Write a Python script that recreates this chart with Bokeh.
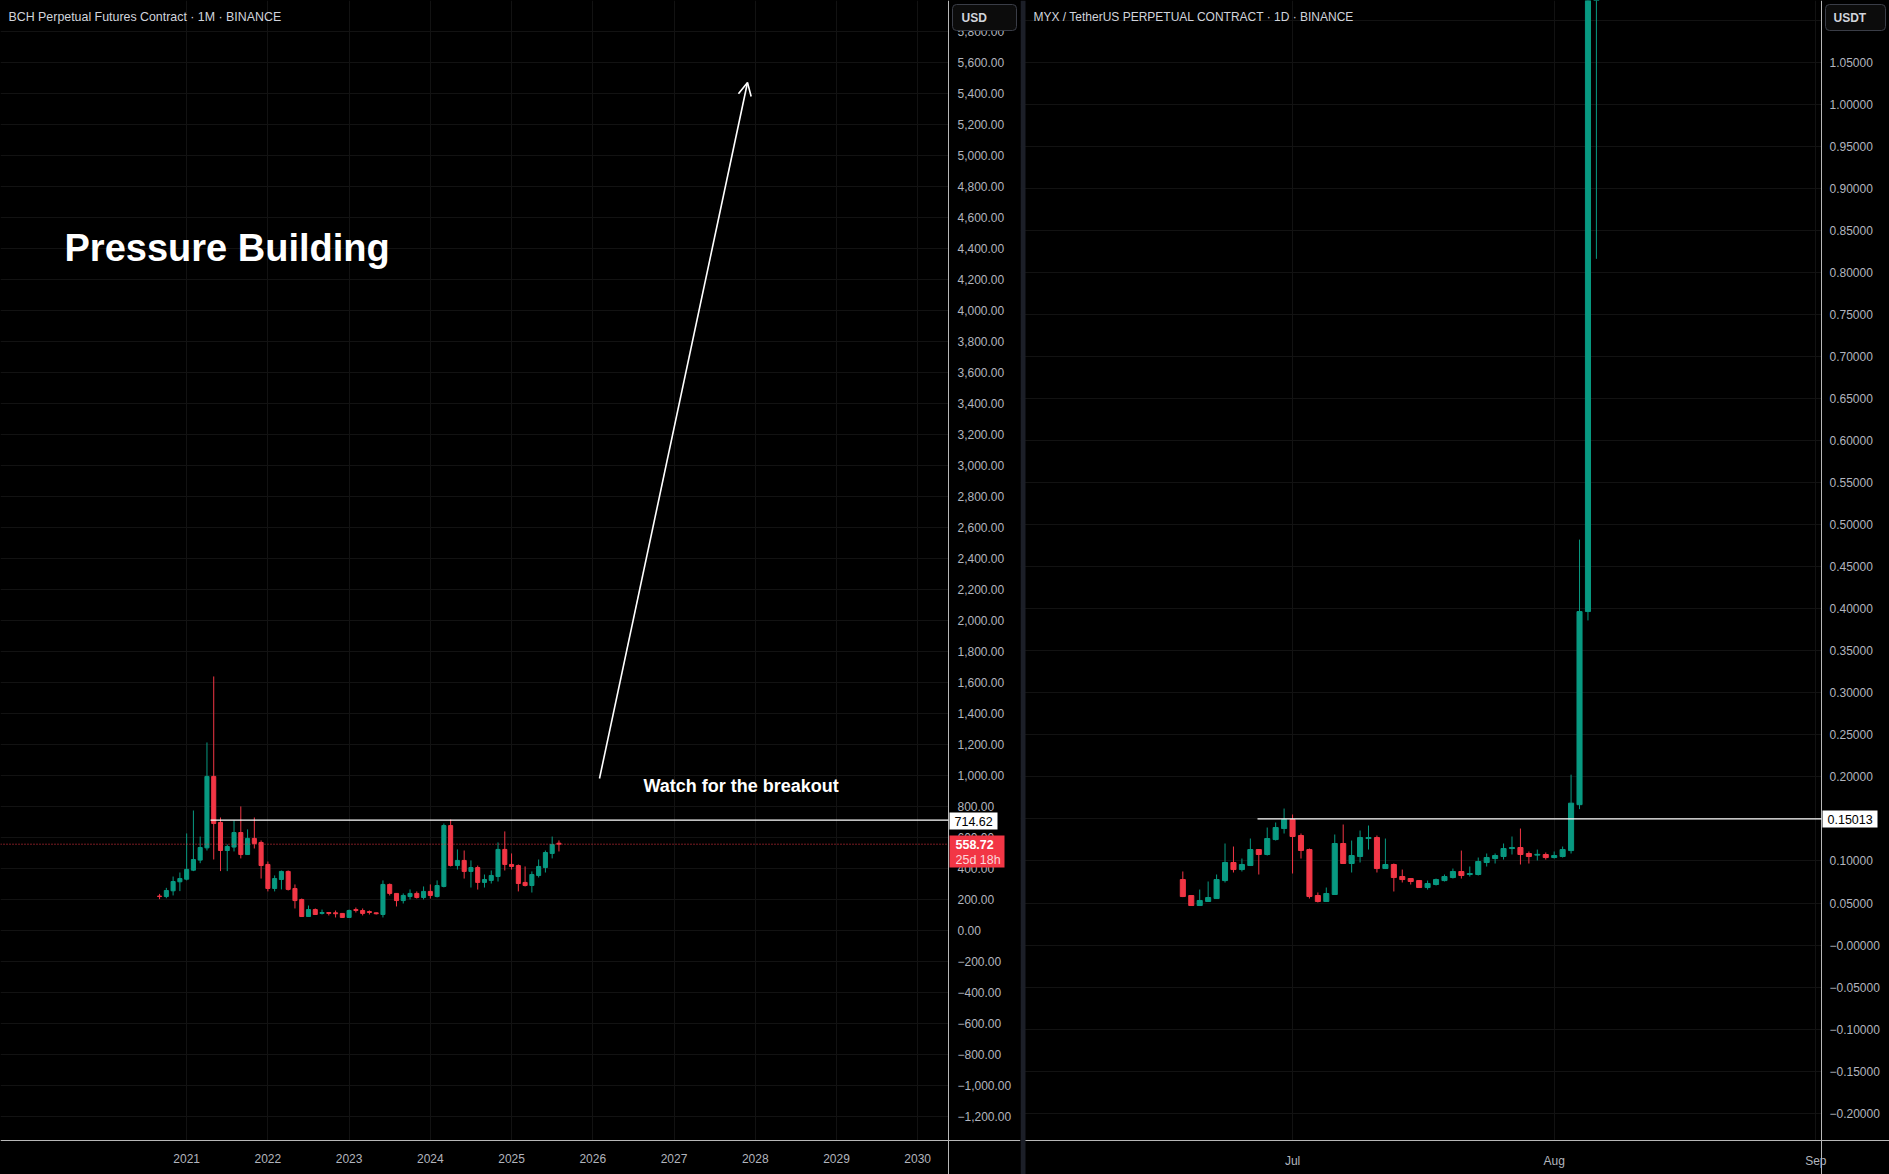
import pandas as pd
from bokeh.plotting import figure
from bokeh.models import (Range1d, FixedTicker, CustomJSTickFormatter, Label, BoxAnnotation,
                          Arrow, OpenHead, ColumnDataSource)
from bokeh.layouts import row
from bokeh.embed import file_html
from bokeh.resources import INLINE

# ---------------- data: BCH monthly (Sep 2020 .. Aug 2025) ----------------
bch_months = [str(p) for p in pd.period_range("2020-09", periods=60, freq="M")]
bch_open = [224, 221, 258, 316, 333, 391, 456, 535, 996, 699,
            518, 540, 634, 492, 596, 570, 428, 273, 331, 383,
            273, 202, 92, 137, 112, 118, 116, 112, 86, 137,
            131, 124, 116, 105, 299, 241, 195, 221, 241, 215,
            254, 221, 286, 679, 421, 454, 383, 408, 312, 325,
            350, 525, 428, 421, 312, 292, 357, 408, 499, 565]
bch_high = [238, 277, 350, 376, 628, 776, 608, 1215, 1641, 731,
            557, 712, 802, 654, 731, 583, 447, 357, 389, 389,
            299, 208, 163, 144, 137, 118, 131, 112, 137, 150,
            144, 131, 118, 325, 305, 241, 241, 267, 254, 286,
            299, 325, 692, 718, 525, 518, 454, 421, 363, 389,
            570, 641, 499, 428, 415, 383, 460, 518, 608, 583]
bch_low = [204, 210, 228, 256, 325, 385, 436, 518, 460, 385,
           385, 512, 467, 490, 531, 337, 254, 254, 267, 260,
           144, 90, 90, 103, 105, 99, 86, 85, 85, 118,
           99, 105, 105, 86, 228, 157, 176, 202, 208, 202,
           208, 215, 280, 415, 395, 337, 279, 266, 279, 305,
           318, 389, 395, 254, 286, 247, 344, 376, 467, 512]
bch_close = [221, 260, 318, 337, 396, 460, 537, 996, 692, 518,
             544, 634, 492, 596, 563, 421, 273, 337, 383, 267,
             195, 92, 137, 105, 118, 112, 110, 86, 131, 131,
             112, 118, 110, 299, 241, 195, 228, 241, 215, 254,
             228, 292, 679, 421, 454, 383, 408, 312, 331, 357,
             525, 428, 415, 305, 292, 363, 415, 505, 557, 558.72]
bch_years = ["2021", "2022", "2023", "2024", "2025", "2026", "2027", "2028", "2029", "2030"]
bch_yticks = list(range(-1200, 5801, 200))
bch_level = 714.62
bch_last = 558.72

# ---------------- data: MYX daily (Jun 18 .. Aug 6 2025) ----------------
myx_days = [d.strftime("%Y-%m-%d") for d in pd.date_range("2025-06-18", periods=50, freq="D")]
myx_open = [.0779, .0589, .0470, .0518, .0553, .0767, .0982, .0898, .0946, .1136,
            .1077, .1255, .1386, .1493, .1303, .1136, .0589, .0518, .0601, .1208,
            .0970, .1053, .1267, .1279, .0910, .0958, .0815, .0791, .0767, .0684,
            .0720, .0767, .0803, .0875, .0839, .0839, .0982, .1029, .1053, .1148,
            .1160, .1089, .1070, .1077, .1041, .1053, .1124, .1670, .3968, 1.3000]
myx_high = [.0875, .0595, .0660, .0756, .0839, .1208, .1172, .1029, .1267, .1140,
            .1398, .1458, .1624, .1553, .1327, .1148, .0625, .0684, .1315, .1434,
            .1243, .1362, .1422, .1303, .1267, .0970, .0898, .0791, .0770, .0767,
            .0791, .0839, .0910, .1124, .0934, .1041, .1089, .1089, .1208, .1291,
            .1386, .1113, .1136, .1101, .1113, .1172, .2027, .4824, 1.3800, 1.5500]
myx_low = [.0570, .0465, .0465, .0512, .0550, .0744, .0863, .0875, .0940, .0839,
           .1065, .1243, .1327, .0851, .1029, .0553, .0506, .0512, .0598, .0965,
           .0863, .0982, .1136, .0863, .0905, .0637, .0744, .0720, .0684, .0660,
           .0708, .0756, .0791, .0791, .0815, .0827, .0934, .0970, .1017, .1077,
           .0958, .0970, .1006, .1017, .1029, .1041, .1089, .1617, .3862, .8165]
myx_close = [.0577, .0470, .0530, .0565, .0779, .0982, .0898, .0958, .1136, .1077,
             .1267, .1398, .1493, .1291, .1125, .0577, .0518, .0613, .1208, .0970,
             .1065, .1279, .1279, .0910, .0958, .0803, .0779, .0756, .0684, .0732,
             .0779, .0815, .0875, .0827, .0851, .0994, .1041, .1065, .1148, .1160,
             .1077, .1053, .1079, .1041, .1065, .1136, .1688, .3968, 1.3000, 1.3600]
myx_months = ["Jul", "Aug", "Sep"]
myx_month_starts = ["2025-07-01", "2025-08-01", "2025-09-01"]
myx_yticks = [round(-0.20 + 0.05 * i, 2) for i in range(27)]
myx_level = 0.15013

# ---------------- styling ----------------
GREEN = "#089981"
RED = "#f23645"
BG = "#000000"
TXT = "#d1d4dc"
TICK = "#b2b5be"
AXIS = "#b8b8b8"
GRID = "#121212"
FONT = "Liberation Sans"

H = 1174
FRAME_B = 1140          # y (window px) of the time axis line

# left pane: canvas = window x 0..1020 ; price axis line at x = 948
L_W, L_AX = 1020, 948
L_XS, L_DX = -27.5, 140.05 / 948.0       # month index at px 0, months per px
L_YT, L_DY = 6002.0, 7355.0 / 1140.0     # price at py 0, price per px
# right pane: canvas = window x 1020..1889 ; plot from 1025, price axis at 1821
R_X0, R_W, R_AX = 1020, 869, 1821
R_XS, R_DX = -31.64, 94.31 / 796.0       # day index at px 1025
R_YT, R_DY = 1.1239, 1.3565 / 1140.0


def lx(px):
    return L_XS + px * L_DX


def ly(py):
    return L_YT - py * L_DY


def rx(px):
    return R_XS + (px - 1025) * R_DX


def ry(py):
    return R_YT - py * R_DY


def candles(p, x, o, h, l, c, width):
    color = [GREEN if ci >= oi else RED for oi, ci in zip(o, c)]
    top = [max(a, b) for a, b in zip(o, c)]
    bot = [min(a, b) for a, b in zip(o, c)]
    src = ColumnDataSource(dict(x=x, h=h, l=l, top=top, bot=bot, color=color))
    p.segment(x0="x", x1="x", y0="l", y1="h", line_color="color", line_width=1, source=src)
    p.vbar(x="x", width=width, top="top", bottom="bot", fill_color="color",
           line_color="color", line_width=1, source=src)


def make_fig(width, xr, yr):
    p = figure(width=width, height=H, output_backend="svg", toolbar_location=None,
               x_range=Range1d(*xr), y_range=Range1d(*yr), min_border=0,
               min_border_left=0, min_border_right=0, min_border_top=0, min_border_bottom=0,
               y_axis_location="right", x_axis_location="below",
               outline_line_color=None, styles={"background-color": BG})
    p.background_fill_color = BG
    p.border_fill_color = BG
    for ax in p.xaxis + p.yaxis:
        ax.axis_line_color = None
        ax.major_tick_line_color = None
        ax.minor_tick_line_color = None
        ax.major_tick_out = 0
        ax.major_tick_in = 0
        ax.minor_tick_out = 0
        ax.minor_tick_in = 0
        ax.major_label_text_color = TICK
        ax.major_label_text_font = FONT
        ax.major_label_text_font_size = "12px"
    p.xgrid.grid_line_color = GRID
    p.ygrid.grid_line_color = GRID
    return p


def label(p, x, y, text, size="12px", color=TXT, bold=False, font=FONT, align="left"):
    p.add_layout(Label(x=x, y=y, text=text, text_color=color, text_font=font,
                       text_font_size=size, text_font_style="bold" if bold else "normal",
                       text_baseline="middle", text_align=align))


def box(p, left, right, top, bottom, fill, line=None, radius=0, level="annotation"):
    p.add_layout(BoxAnnotation(left=left, right=right, top=top, bottom=bottom,
                               fill_color=fill, fill_alpha=1, line_color=line,
                               line_alpha=1, line_width=1, border_radius=radius,
                               level=level))


# ================= LEFT: BCH =================
lp = make_fig(L_W, (lx(0), lx(L_W)), (ly(H), ly(0)))
# hide grid under the axis areas, then axis lines
box(lp, lx(L_AX), lx(L_W), ly(0), ly(H), BG, level="underlay")
box(lp, lx(0), lx(L_W), ly(FRAME_B), ly(H), BG, level="underlay")
box(lp, lx(L_AX - 0.5), lx(L_AX + 0.5), ly(0), ly(H), AXIS, level="underlay")
box(lp, lx(0), lx(L_W), ly(FRAME_B - 0.5), ly(FRAME_B + 0.5), AXIS, level="underlay")

bch_x = []
for m in bch_months:
    yy, mm = int(m[:4]), int(m[5:7])
    bch_x.append((yy - 2021) * 12 + (mm - 1))
candles(lp, bch_x, bch_open, bch_high, bch_low, bch_close, 0.6)

xt = [i * 12 for i in range(len(bch_years))]
lp.xaxis.ticker = FixedTicker(ticks=xt)
lp.xaxis.major_label_overrides = {t: s for t, s in zip(xt, bch_years)}
lp.xaxis.major_label_standoff = 13
lp.xaxis.fixed_location = ly(FRAME_B)
lp.yaxis.ticker = FixedTicker(ticks=bch_yticks)
lp.yaxis.major_label_standoff = 9
lp.yaxis.fixed_location = lx(L_AX)
lp.yaxis.formatter = CustomJSTickFormatter(code="""
const s = Math.abs(tick).toLocaleString('en-US', {minimumFractionDigits: 2, maximumFractionDigits: 2});
return (tick < -1e-9 ? '\\u2212' : '') + s;
""")

# price lines
lp.segment(x0=[lx(0)], x1=[lx(L_AX)], y0=[bch_last], y1=[bch_last],
           line_color=RED, line_width=1, line_dash="1 2")
lp.segment(x0=[lx(210)], x1=[lx(L_AX)], y0=[bch_level], y1=[bch_level],
           line_color="white", line_width=1.3)

# arrow + texts
lp.add_layout(Arrow(end=OpenHead(size=13, line_color="white", line_width=1.6),
                    x_start=lx(599), y_start=ly(778), x_end=lx(747), y_end=ly(82),
                    line_color="white", line_width=1.6))
label(lp, lx(8), ly(16), "BCH Perpetual Futures Contract \u00b7 1M \u00b7 BINANCE", "12.4px", TXT)
label(lp, lx(64), ly(247), "Pressure Building", "38px", "#ffffff", True)
label(lp, lx(643), ly(785), "Watch for the breakout", "18px", "#ffffff", True)

# axis-area boxes
box(lp, lx(952), lx(1016), ly(4), ly(30), "#0c0c0c", "#3a3d47", 4)
label(lp, lx(961), ly(17), "USD", "12px", TXT, True)
box(lp, lx(949), lx(997), ly(812), ly(829), "#ffffff")
label(lp, lx(954), ly(820.5), "714.62", "12.5px", "#000000")
box(lp, lx(949), lx(1004), ly(835), ly(867), RED)
label(lp, lx(955), ly(844), "558.72", "12.5px", "#ffffff", True)
label(lp, lx(955), ly(859), "25d 18h", "12.5px", "#fcd6da")

# ================= RIGHT: MYX =================
rp = make_fig(R_W, (rx(R_X0), rx(R_X0 + R_W)), (ry(H), ry(0)))
box(rp, rx(R_AX), rx(R_X0 + R_W), ry(0), ry(H), BG, level="underlay")
box(rp, rx(R_X0), rx(R_X0 + R_W), ry(FRAME_B), ry(H), BG, level="underlay")
box(rp, rx(R_AX - 0.5), rx(R_AX + 0.5), ry(0), ry(H), AXIS, level="underlay")
box(rp, rx(R_X0), rx(R_X0 + R_W), ry(FRAME_B - 0.5), ry(FRAME_B + 0.5), AXIS, level="underlay")

ref = pd.Timestamp("2025-07-01")
myx_x = [(pd.Timestamp(d) - ref).days for d in myx_days]
candles(rp, myx_x, myx_open, myx_high, myx_low, myx_close, 0.6)

mt = [(pd.Timestamp(d) - ref).days for d in myx_month_starts]
rp.xaxis.ticker = FixedTicker(ticks=mt)
rp.xaxis.major_label_overrides = {t: s for t, s in zip(mt, myx_months)}
rp.xaxis.major_label_standoff = 13
rp.xaxis.fixed_location = ry(FRAME_B)
rp.yaxis.ticker = FixedTicker(ticks=myx_yticks)
rp.yaxis.major_label_standoff = 8
rp.yaxis.fixed_location = rx(R_AX)
rp.yaxis.formatter = CustomJSTickFormatter(code="""
const s = Math.abs(tick).toFixed(5);
return (tick < 1e-9 ? '\\u2212' : '') + s;
""")

rp.segment(x0=[rx(1257)], x1=[rx(R_AX)], y0=[myx_level], y1=[myx_level],
           line_color="white", line_width=1.3)
label(rp, rx(1033), ry(16), "MYX / TetherUS PERPETUAL CONTRACT \u00b7 1D \u00b7 BINANCE", "12px", TXT)

box(rp, rx(1020), rx(1025), ry(0), ry(H), "#1c1f28", level="overlay")
box(rp, rx(1825), rx(1885), ry(4), ry(30), "#0c0c0c", "#3a3d47", 4)
label(rp, rx(1833), ry(17), "USDT", "12px", TXT, True)
box(rp, rx(1822), rx(1877), ry(810), ry(827), "#ffffff")
label(rp, rx(1827), ry(818.5), "0.15013", "12.5px", "#000000")

layout = row(lp, rp, spacing=0, styles={"background-color": BG})
html = file_html(layout, INLINE, title="BCH vs MYX")
html = html.replace("<body>", '<body style="margin:0;background-color:#000000;">', 1)
open("out.html", "w").write(html)
